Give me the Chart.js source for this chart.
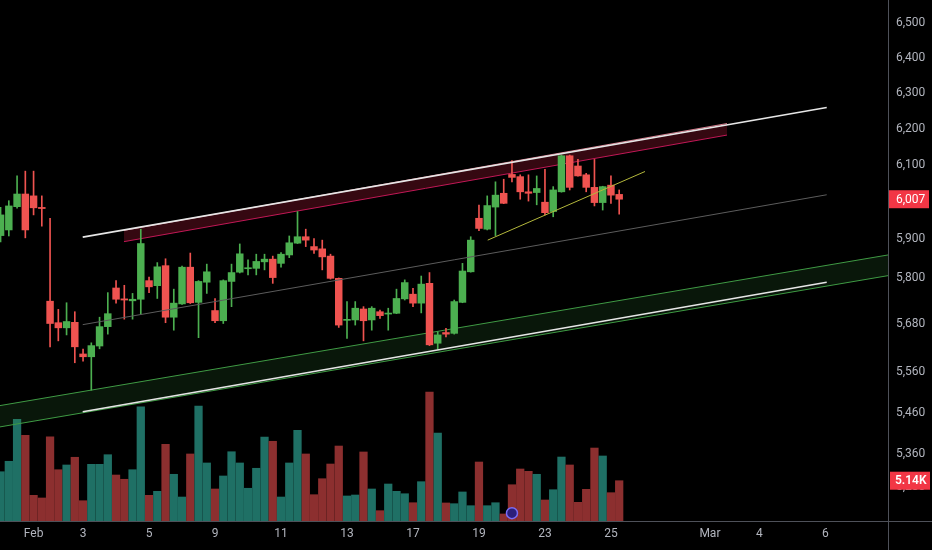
<!DOCTYPE html>
<html>
<head>
<meta charset="utf-8">
<script src="https://cdn.jsdelivr.net/npm/chart.js@4.4.1/dist/chart.umd.min.js"></script>
<style>
  html, body { margin: 0; padding: 0; background: #000; }
  #wrap { width: 932px; height: 550px; }
</style>
</head>
<body>
<div id="wrap"><canvas id="chart" width="932" height="550"></canvas></div>
<script>
// candle data, one entry per bar (index 0 = leftmost, partly cut off)
const opens  = [5910,5925,5987,6021,6016,5985,5739,5684,5671,5685,5605,5598,5625,5674,5773,5745,5740,5744,5792,5779,
                5831,5698,5732,5827,5736,5788,5715,5689,5790,5814,5823,5824,5841,5848,5837,5859,5890,5907,5881,5875,
                5856,5798,5690,5691,5719,5691,5712,5706,5708,5745,5757,5734,5785,5632,5659,5657,5736,5815,5956,5927,
                5986,6023,6074,6068,6027,6025,5999,5974,6027,6125,6097,6073,6039,5998,6045,6020];
const highs  = [5985,6003,6070,6083,6083,6016,5956,5718,5735,5712,5617,5633,5698,5761,5792,5780,5759,5927,5801,5839,
                5849,5770,5830,5864,5792,5835,5746,5794,5835,5888,5846,5861,5861,5856,5865,5909,5974,5927,5902,5898,
                5861,5799,5738,5738,5725,5725,5716,5721,5770,5794,5772,5804,5813,5661,5670,5742,5837,5907,5991,6016,
                6054,6061,6112,6073,6073,6070,6088,6041,6127,6127,6115,6077,6115,6042,6070,6032];
const lows   = [5893,5909,5983,5904,5965,5935,5623,5638,5653,5583,5587,5515,5618,5655,5734,5693,5693,5706,5761,5746,
                5684,5665,5731,5733,5646,5759,5684,5682,5725,5812,5807,5807,5820,5785,5827,5852,5889,5881,5863,5820,
                5796,5672,5644,5678,5638,5665,5695,5665,5707,5742,5725,5709,5626,5617,5648,5655,5735,5814,5923,5925,
                5910,5995,6054,6007,6002,5992,5965,5960,6026,6032,6069,6027,5989,5978,5996,5967];
const closes = [5965,5989,6021,5925,5984,5982,5682,5671,5687,5623,5598,5626,5674,5707,5744,5742,5744,5889,5776,5828,
                5698,5734,5827,5735,5790,5815,5689,5792,5813,5862,5825,5842,5848,5800,5861,5891,5907,5898,5872,5854,
                5798,5678,5692,5721,5689,5721,5702,5708,5746,5787,5734,5783,5628,5653,5655,5738,5817,5898,5929,5990,
                6018,5996,6066,6027,6023,6036,5971,6032,6125,6039,6070,6039,5998,6041,6018,6007];
// volume in thousands
const volumes = [6.26,7.56,12.79,10.79,3.32,2.99,10.62,6.51,7.10,8.06,2.65,7.18,7.18,8.38,5.85,5.32,6.51,14.35,3.32,3.82,
                 9.67,5.94,3.11,8.47,14.44,7.35,4.11,5.73,8.75,7.35,4.20,6.69,10.58,10.05,3.11,7.35,11.42,8.47,3.40,5.39,
                 7.22,9.46,3.24,3.36,8.72,4.11,1.41,4.73,3.82,3.52,2.40,5.02,16.19,11.08,2.37,2.28,3.74,2.03,7.47,2.03,
                 2.40,1.00,4.64,6.60,6.31,5.94,2.74,4.02,8.09,7.10,2.45,4.07,9.21,8.22,3.65,5.14];

// time axis labels (bar index where the day starts)
const dayTickIndex = [4, 10, 18, 26, 34, 42, 50, 58, 66, 74, 86, 92, 100];
const dayTickLabel = ['Feb', '3', '5', '9', '11', '13', '17', '19', '23', '25', 'Mar', '4', '6'];
// price axis labels
const priceTicks = [5280, 5360, 5460, 5560, 5680, 5800, 5900, 6000, 6100, 6200, 6300, 6400, 6500];

// drawings: [barIndex, price] end points
const channelUpper = [[9.96, 5906], [100.16, 6259]];
const channelMid   = [[9.96, 5679], [100.16, 6019]];
const channelLower = [[9.96, 5462], [100.16, 5788]];
const redBandTop    = [[14.96, 5924], [88.07, 6214]];
const redBandBottom = [[14.96, 5894], [88.07, 6182]];
const greenBandTop    = [[-0.07, 5477], [107.59, 5859]];
const greenBandBottom = [[-0.07, 5425], [107.59, 5805]];
const yellowLine = [[59.06, 5898], [78.13, 6082]];
const eventBars = [62];

const UP = '#4caf50', DOWN = '#ef5350';
const VOL_UP = '#1f7065', VOL_DOWN = '#8c2f2f';
const isUp = closes.map((c, i) => c >= opens[i]);

const bodies = closes.map((c, i) => ({ x: i, y: [opens[i], c] }));
const wicks = highs.map((h, i) => ({ x: i, y: [lows[i], h] }));
const vols = volumes.map((v, i) => ({ x: i, y: v }));
const pts = arr => arr.map(p => ({ x: p[0], y: p[1] }));

function trend(data, color, width, extra) {
  return Object.assign({
    type: 'line', data: pts(data), yAxisID: 'y', borderColor: color, borderWidth: width,
    pointRadius: 0, fill: false, order: -1
  }, extra || {});
}

const fmt = v => v.toLocaleString('en-US');

// chart area must run right to the canvas edges
const noPad = s => { s.paddingTop = 0; s.paddingBottom = 0; s.paddingLeft = 0; s.paddingRight = 0; };

const overlay = {
  id: 'overlay',
  afterDraw(chart) {
    const { ctx, scales } = chart;
    ctx.save();
    ctx.strokeStyle = '#4e5159';
    ctx.lineWidth = 1;
    ctx.beginPath();
    ctx.moveTo(0, 521.5); ctx.lineTo(932, 521.5);
    ctx.moveTo(888.5, 0); ctx.lineTo(888.5, 550);
    ctx.stroke();

    const last = closes.length - 1;
    const py = scales.y.getPixelForValue(closes[last]);
    ctx.fillStyle = '#f23645';
    ctx.fillRect(889, py - 9, 40, 18);
    ctx.fillStyle = '#fff';
    ctx.font = '12px Roboto';
    ctx.textBaseline = 'middle';
    ctx.textAlign = 'left';
    ctx.fillText(fmt(closes[last]), 896, py + 0.5);

    const vy = scales.yv.getPixelForValue(volumes[last]);
    ctx.fillStyle = '#f23645';
    ctx.fillRect(890, vy - 9, 40, 18);
    ctx.fillStyle = '#fff';
    ctx.font = '600 12px Roboto';
    ctx.fillText(volumes[last].toFixed(2) + 'K', 895, vy + 0.5);
    ctx.restore();
  }
};

new Chart(document.getElementById('chart'), {
  type: 'bar',
  data: {
    datasets: [
      { type: 'bar', data: bodies, yAxisID: 'y', grouped: false, barThickness: 6.8, minBarLength: 1,
        backgroundColor: isUp.map(u => u ? UP : DOWN), borderWidth: 0, order: 0 },
      { type: 'bar', data: wicks, yAxisID: 'y', grouped: false, barThickness: 1,
        backgroundColor: isUp.map(u => u ? UP : DOWN), borderWidth: 0, order: 1 },
      { type: 'bar', data: vols, yAxisID: 'yv', grouped: false, barThickness: 7.6,
        backgroundColor: isUp.map(u => u ? VOL_UP : VOL_DOWN), borderWidth: 0, order: 6 },
      trend(greenBandTop, '#3f9a44', 1, { fill: '+1', backgroundColor: 'rgba(67,160,71,0.14)', order: 4 }),
      trend(greenBandBottom, '#3f9a44', 1, { order: 4 }),
      trend(redBandTop, 'rgba(255,150,170,0.8)', 1, { fill: '+1', backgroundColor: 'rgba(190,30,60,0.28)', order: 4 }),
      trend(redBandBottom, '#c2185b', 1, { order: 4 }),
      trend(channelMid, '#5c5c5c', 1),
      trend(channelUpper, '#e6e6e6', 1.6),
      trend(channelLower, '#e6e6e6', 1.6),
      trend(yellowLine, '#b4b83c', 1),
      { type: 'line', showLine: false, data: eventBars.map(i => ({ x: i, y: 1.1 })), yAxisID: 'yv',
        pointRadius: 5.5, pointBackgroundColor: '#2c1f7a', pointBorderColor: '#7a6cf5', pointBorderWidth: 1.5, order: -2 }
    ]
  },
  options: {
    responsive: false,
    animation: false,
    events: [],
    layout: { padding: 0, autoPadding: false },
    plugins: { legend: { display: false }, tooltip: { enabled: false } },
    scales: {
      x: {
        type: 'linear', min: -0.07, max: 107.59, offset: false,
        grid: { display: false, drawTicks: false }, border: { display: false },
        afterBuildTicks: s => { s.ticks = dayTickIndex.map(v => ({ value: v })); },
        afterFit: s => { s.height = 28; noPad(s); },
        ticks: { autoSkip: false, maxRotation: 0, padding: 5, color: '#b2b5be',
                 font: { family: 'Roboto', size: 12 },
                 callback: (v, i) => dayTickLabel[i] }
      },
      y: {
        type: 'logarithmic', position: 'right', min: 5198.9, max: 6567.3, beginAtZero: false,
        grid: { display: false, drawTicks: false }, border: { display: false },
        afterBuildTicks: s => { s.ticks = priceTicks.map(v => ({ value: v })); },
        afterFit: s => { s.width = 44; noPad(s); },
        ticks: { autoSkip: false, padding: 8, color: '#b2b5be',
                 font: { family: 'Roboto', size: 12 },
                 callback: v => fmt(v) }
      },
      yv: { type: 'linear', display: false, min: 0, max: 65, afterFit: s => { s.width = 0; noPad(s); } }
    }
  },
  plugins: [overlay]
});
</script>
</body>
</html>
